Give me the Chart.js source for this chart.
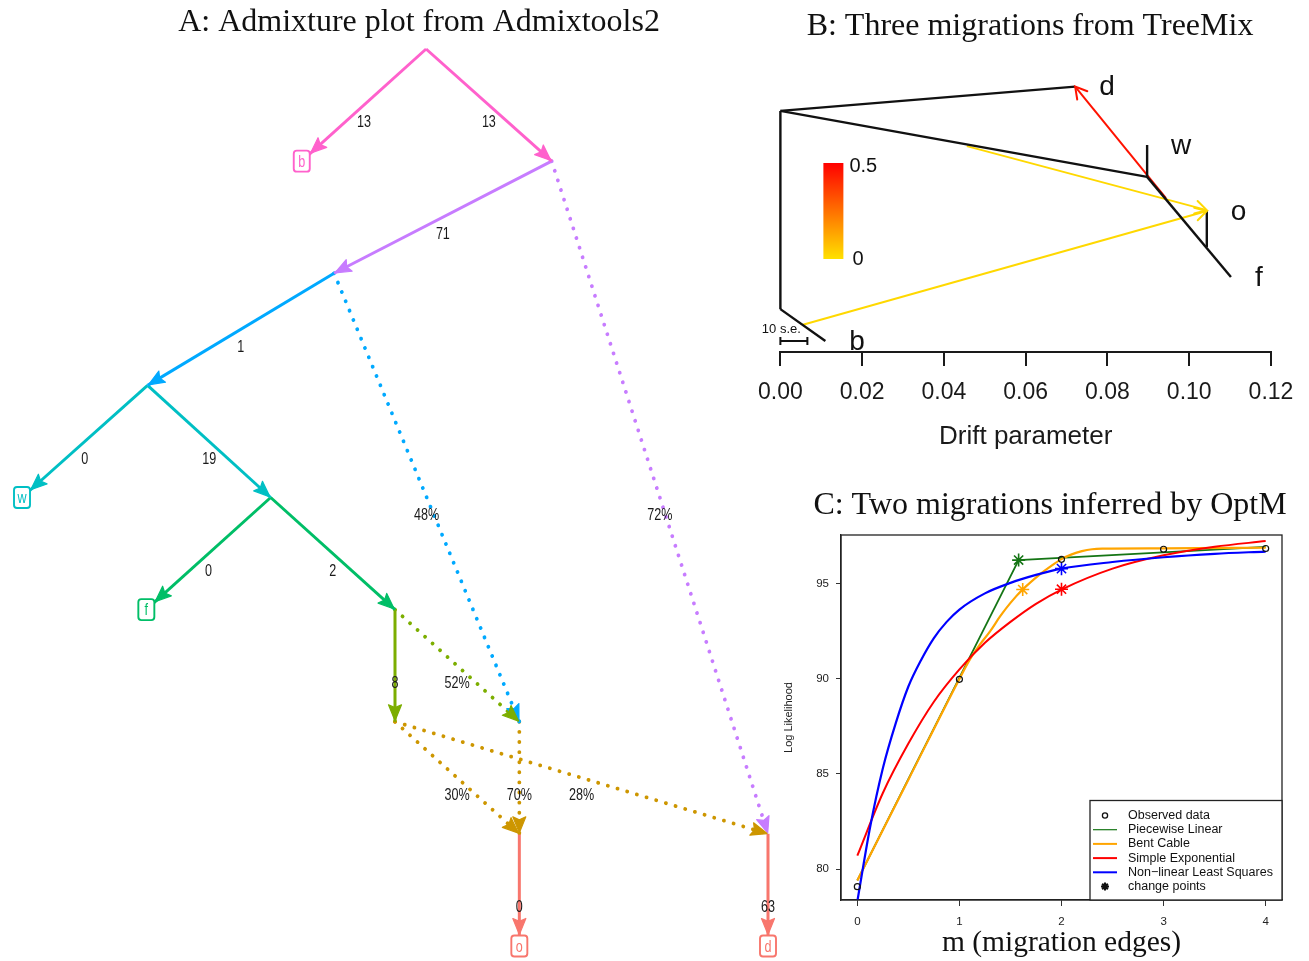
<!DOCTYPE html>
<html>
<head>
<meta charset="utf-8">
<title>Admixture graph, TreeMix and OptM</title>
<script src="https://cdn.jsdelivr.net/npm/chart.js@4.4.1/dist/chart.umd.min.js"></script>
<style>
  html, body { margin:0; padding:0; background:#fff; overflow:hidden; }
  body { width:1309px; height:961px; position:relative; }
  canvas { position:absolute; display:block; }
  #admix { left:0; top:0; }
  #treemix { left:745px; top:0; }
  #optm { left:760px; top:470px; }
</style>
</head>
<body>
<canvas id="admix" width="838" height="961"></canvas>
<canvas id="treemix" width="570" height="470"></canvas>
<canvas id="optm" width="580" height="491"></canvas>
<script>
// ---------------- Panel A: admixture graph (Admixtools2) ----------------
// node layout: horizontal position and depth level
const nodeNames = ['R', 'b', 'N1', 'N2', 'N3', 'w', 'N4', 'f', 'N5', 'N6', 'N7', 'N8', 'N9', 'o', 'd'];
const nodeX     = [3.25, 2.25, 4.26, 2.51, 1.01, 0, 2.0, 1.0, 3.0, 3.0, 4.0, 4.0, 6.0, 4.0, 6.0];
const nodeDepth = [0, 1, 1, 2, 3, 4, 4, 5, 5, 6, 6, 7, 7, 8, 8];
const leafNodes = ['b', 'w', 'f', 'o', 'd'];
// edges: drift (x1000) on tree edges, admixture weights on admixture edges
const edgeFrom  = ['R', 'R', 'N1', 'N1', 'N2', 'N2', 'N3', 'N3', 'N4', 'N4', 'N5', 'N5', 'N6', 'N6', 'N7', 'N8', 'N9'];
const edgeTo    = ['b', 'N1', 'N2', 'N9', 'N3', 'N7', 'w', 'N4', 'f', 'N5', 'N6', 'N7', 'N8', 'N9', 'N8', 'o', 'd'];
const edgeLabel = ['13', '13', '71', '72%', '1', '48%', '0', '19', '0', '2', '8', '52%', '30%', '28%', '70%', '0', '63'];
const edgeAdmix = [false, false, false, true, false, true, false, false, false, false, false, true, true, true, true, false, false];

// ---------------- Panel B: TreeMix tree with three migrations ----------------
const tmNodeName = ['root', 'base', 'bTip', 'dTip', 'wNode', 'wTip', 'fTip', 'oNode', 'oTip'];
const tmDrift    = [0, 0, 0.0110, 0.0721, 0.0897, 0.0897, 0.1102, 0.1043, 0.1043];
const tmHeight   = [0.855, 0.152, 0.039, 0.941, 0.621, 0.734, 0.266, 0.372, 0.500];
const tmEdgeFrom = ['root', 'base', 'root', 'root', 'wNode', 'wNode', 'oNode'];
const tmEdgeTo   = ['base', 'bTip', 'dTip', 'wNode', 'wTip', 'fTip', 'oTip'];
const tmTipLabel = ['b', 'd', 'w', 'f', 'o'];
const tmTipNode  = ['bTip', 'dTip', 'wTip', 'fTip', 'oTip'];
const migFromDrift  = [0.0943, 0.0456, 0.0053];
const migFromHeight = [0.546, 0.730, 0.096];
const migToDrift    = [0.0721, 0.1043, 0.1043];
const migToHeight   = [0.941, 0.503, 0.500];
const migWeight     = [0.46, 0.02, 0.02];
const weightScale   = [0, 0.5];
const driftTicks    = [0, 0.02, 0.04, 0.06, 0.08, 0.10, 0.12];

// ---------------- Panel C: OptM fits ----------------
const migEdges    = [0, 1, 2, 3, 4];
const observedLL  = [79.07, 89.98, 96.29, 96.82, 96.86];
const linearM     = [0, 1.58, 4];
const linearLL    = [79.4, 96.25, 96.95];
const cableM      = [0, 0.5, 1.0, 1.1, 1.2, 1.3, 1.4, 1.5, 1.62, 1.8, 1.9, 2.0, 2.1, 2.2, 2.3, 2.4, 3.0, 4.0];
const cableLL     = [79.4, 84.7, 90.0, 91.0, 91.8, 92.5, 93.3, 94.0, 94.7, 95.55, 95.95, 96.3, 96.55, 96.72, 96.82, 96.85, 96.87, 96.9];
const expM        = [0, 0.25, 0.5, 0.75, 1.0, 1.25, 1.5, 1.75, 2.0, 2.5, 3.0, 3.5, 4.0];
const expLL       = [80.7, 84.0, 86.6, 88.8, 90.5, 91.9, 93.0, 93.95, 94.7, 95.8, 96.5, 96.95, 97.25];
const nlsM        = [0, 0.125, 0.25, 0.375, 0.5, 0.625, 0.75, 0.875, 1.0, 1.25, 1.5, 1.75, 2.0, 2.5, 3.0, 3.5, 4.0];
const nlsLL       = [78.3, 82.2, 85.3, 87.65, 89.6, 91.0, 92.15, 93.0, 93.65, 94.5, 95.05, 95.47, 95.8, 96.15, 96.4, 96.58, 96.7];
const changeM     = [1.58, 1.62, 2.0, 2.0];
const changeLL    = [96.25, 94.7, 94.72, 95.8];
const mTicks      = [0, 1, 2, 3, 4];
const llTicks     = [80, 85, 90, 95];
const legendLabels = ['Observed data', 'Piecewise Linear', 'Bent Cable', 'Simple Exponential', 'Non\u2212linear Least Squares', 'change points'];

const SANS = '"Liberation Sans", Arial, Helvetica, sans-serif';
const SERIF = '"Liberation Serif", "Times New Roman", serif';
Chart.defaults.font.family = SANS;
Chart.defaults.animation = false;

// ======================= Panel A =======================
const sourceColour = { R:'#FF61CC', N1:'#C77CFF', N2:'#00A9FF', N3:'#00BFC4', N4:'#00BE67',
                       N5:'#7CAE00', N6:'#CD9600', N7:'#CD9600', N8:'#F8766D', N9:'#F8766D' };
const nodeIndex = name => nodeNames.indexOf(name);
const nodePoint = name => ({ x: nodeX[nodeIndex(name)], y: nodeDepth[nodeIndex(name)] });
const isLeaf = name => leafNodes.includes(name);

const admixDatasets = edgeFrom.map((from, i) => ({
  label: edgeLabel[i],
  data: [nodePoint(from), nodePoint(edgeTo[i])],
  showLine: true,
  borderColor: sourceColour[from],
  backgroundColor: sourceColour[from],
  borderWidth: edgeAdmix[i] ? 3.8 : 3,
  borderDash: edgeAdmix[i] ? [0.1, 10] : [],
  borderCapStyle: edgeAdmix[i] ? 'round' : 'butt',
  pointRadius: 0,
  pointHoverRadius: 0,
  clip: false
}));

function narrowText(ctx, text, x, y, size, colour, squeeze) {
  ctx.save();
  ctx.translate(x, y);
  ctx.scale(squeeze, 1);
  ctx.font = size + 'px ' + SANS;
  ctx.fillStyle = colour;
  ctx.textAlign = 'center';
  ctx.textBaseline = 'middle';
  ctx.fillText(text, 0, 0);
  ctx.restore();
}

const LEAF_W = 16, LEAF_H = 21;

const graphDecor = {
  id: 'graphDecor',
  afterDatasetsDraw(chart) {
    const { ctx, scales: { x, y } } = chart;
    chart.data.datasets.forEach((ds, i) => {
      const meta = chart.getDatasetMeta(i);
      const a = meta.data[0], b = meta.data[1];
      const dx = b.x - a.x, dy = b.y - a.y, len = Math.hypot(dx, dy);
      const ux = dx / len, uy = dy / len;
      let back = 1;
      if (isLeaf(edgeTo[i])) {
        const tx = Math.abs(ux) > 1e-6 ? (LEAF_W / 2) / Math.abs(ux) : Infinity;
        const ty = Math.abs(uy) > 1e-6 ? (LEAF_H / 2) / Math.abs(uy) : Infinity;
        back = Math.min(tx, ty) + 1;
      }
      const tipX = b.x - ux * back, tipY = b.y - uy * back;
      const L = 16, W = 6.5;
      ctx.save();
      ctx.fillStyle = ds.borderColor;
      ctx.strokeStyle = ds.borderColor;
      ctx.lineWidth = 1.2;
      ctx.lineJoin = 'round';
      ctx.beginPath();
      ctx.moveTo(tipX, tipY);
      ctx.lineTo(tipX - ux * L - uy * W, tipY - uy * L + ux * W);
      ctx.lineTo(tipX - ux * L * 0.82, tipY - uy * L * 0.82);
      ctx.lineTo(tipX - ux * L + uy * W, tipY - uy * L - ux * W);
      ctx.closePath();
      ctx.fill();
      ctx.stroke();
      ctx.restore();
      // edge label just below the edge midpoint
      narrowText(ctx, ds.label, (a.x + b.x) / 2, (a.y + b.y) / 2 + 17.5, 17, '#1a1a1a', 0.74);
    });
    // leaf labels in rounded boxes
    leafNodes.forEach(name => {
      const k = nodeIndex(name);
      const px = x.getPixelForValue(nodeX[k]), py = y.getPixelForValue(nodeDepth[k]);
      const colour = sourceColour[edgeFrom[edgeTo.indexOf(name)]];
      ctx.save();
      ctx.fillStyle = '#fff';
      ctx.strokeStyle = colour;
      ctx.lineWidth = 1.9;
      ctx.beginPath();
      ctx.roundRect(px - LEAF_W / 2, py - LEAF_H / 2, LEAF_W, LEAF_H, 3);
      ctx.fill();
      ctx.stroke();
      ctx.restore();
      narrowText(ctx, name, px, py + 1, 17, colour, 0.74);
    });
  }
};

new Chart(document.getElementById('admix'), {
  type: 'scatter',
  data: { datasets: admixDatasets },
  options: {
    responsive: false,
    animation: false,
    events: [],
    layout: { padding: 0 },
    plugins: {
      legend: { display: false },
      tooltip: { enabled: false },
      title: {
        display: true,
        text: 'A: Admixture plot from Admixtools2',
        color: '#111',
        font: { family: SERIF, size: 32, weight: 'normal' },
        padding: { top: 3, bottom: 0 }
      }
    },
    scales: {
      x: { type: 'linear', display: false, min: -0.177, max: 6.563 },
      y: { type: 'linear', display: false, reverse: true, min: -0.0678, max: 8.1338 }
    }
  },
  plugins: [graphDecor]
});

// ======================= Panel B =======================
function heat(w) {
  const t = Math.max(0, Math.min(1, w / weightScale[1]));
  return 'rgb(255,' + Math.round(225 * (1 - t)) + ',0)';
}
const tmPoint = name => {
  const k = tmNodeName.indexOf(name);
  return { x: tmDrift[k], y: tmHeight[k] };
};
const treeDatasets = tmEdgeFrom.map((from, i) => ({
  data: [tmPoint(from), tmPoint(tmEdgeTo[i])],
  showLine: true, borderColor: '#111', borderWidth: 2.4,
  pointRadius: 0, pointHoverRadius: 0, clip: false
}));
const migDatasets = migFromDrift.map((d, i) => ({
  data: [{ x: d, y: migFromHeight[i] }, { x: migToDrift[i], y: migToHeight[i] }],
  showLine: true, borderColor: heat(migWeight[i]), borderWidth: 2,
  pointRadius: 0, pointHoverRadius: 0, clip: false
}));

const treemixDecor = {
  id: 'treemixDecor',
  afterDatasetsDraw(chart) {
    const { ctx, chartArea: ca, scales: { x, y } } = chart;
    // open arrowheads at migration targets
    migToDrift.forEach((d, i) => {
      const x1 = x.getPixelForValue(d), y1 = y.getPixelForValue(migToHeight[i]);
      const x0 = x.getPixelForValue(migFromDrift[i]), y0 = y.getPixelForValue(migFromHeight[i]);
      const ang = Math.atan2(y1 - y0, x1 - x0), L = 13, spread = Math.PI / 6;
      ctx.save();
      ctx.strokeStyle = heat(migWeight[i]);
      ctx.lineWidth = 2;
      ctx.lineCap = 'round';
      ctx.beginPath();
      ctx.moveTo(x1 - L * Math.cos(ang - spread), y1 - L * Math.sin(ang - spread));
      ctx.lineTo(x1, y1);
      ctx.lineTo(x1 - L * Math.cos(ang + spread), y1 - L * Math.sin(ang + spread));
      ctx.stroke();
      ctx.restore();
    });
    // tip labels
    ctx.save();
    ctx.font = '28px ' + SANS;
    ctx.fillStyle = '#111';
    ctx.textAlign = 'left';
    ctx.textBaseline = 'middle';
    tmTipLabel.forEach((lab, i) => {
      const p = tmPoint(tmTipNode[i]);
      ctx.fillText(lab, x.getPixelForValue(p.x) + 24, y.getPixelForValue(p.y) + 1);
    });
    ctx.restore();
    // migration weight colour bar
    const bx = ca.left + 43, by = ca.top + 93, bw = 20, bh = 96;
    ctx.save();
    const g = ctx.createLinearGradient(0, by, 0, by + bh);
    g.addColorStop(0, heat(weightScale[1]));
    g.addColorStop(1, heat(weightScale[0]));
    ctx.fillStyle = g;
    ctx.fillRect(bx, by, bw, bh);
    ctx.font = '20px ' + SANS;
    ctx.fillStyle = '#111';
    ctx.textAlign = 'left';
    ctx.textBaseline = 'middle';
    ctx.fillText(String(weightScale[1]), bx + bw + 6, by + 3);
    ctx.fillText(String(weightScale[0]), bx + bw + 9, by + bh);
    // 10 standard-error scale bar
    ctx.font = '13px ' + SANS;
    ctx.textAlign = 'center';
    ctx.fillText('10 s.e.', ca.left + 1, ca.top + 259);
    ctx.strokeStyle = '#111';
    ctx.lineWidth = 2;
    ctx.beginPath();
    const sy = ca.top + 271;
    ctx.moveTo(ca.left, sy); ctx.lineTo(ca.left + 27, sy);
    ctx.moveTo(ca.left, sy - 4); ctx.lineTo(ca.left, sy + 4);
    ctx.moveTo(ca.left + 27, sy - 4); ctx.lineTo(ca.left + 27, sy + 4);
    ctx.stroke();
    ctx.restore();
  }
};

new Chart(document.getElementById('treemix'), {
  type: 'scatter',
  data: { datasets: treeDatasets.concat(migDatasets) },
  options: {
    responsive: false,
    animation: false,
    events: [],
    layout: { padding: { left: 0, right: 0, top: 0, bottom: 18 } },
    plugins: {
      legend: { display: false },
      tooltip: { enabled: false },
      title: {
        display: true,
        text: 'B: Three migrations from TreeMix',
        color: '#111',
        font: { family: SERIF, size: 32, weight: 'normal' },
        padding: { top: 7.5, bottom: 24.1 }
      }
    },
    scales: {
      x: {
        type: 'linear', position: 'bottom', min: 0, max: 0.12,
        afterBuildTicks: s => { s.ticks = driftTicks.map(v => ({ value: v })); },
        afterFit: s => { s.height = 100; },
        ticks: { callback: v => v.toFixed(2), font: { size: 23 }, color: '#1a1a1a', padding: 13, maxRotation: 0, autoSkip: false },
        grid: { drawOnChartArea: false, drawTicks: true, tickLength: 14, color: '#1a1a1a', lineWidth: 2 },
        border: { display: true, color: '#1a1a1a', width: 2 },
        title: { display: true, text: 'Drift parameter', color: '#1a1a1a', font: { size: 26 }, padding: { top: 0, bottom: 0 } }
      },
      y: {
        type: 'linear', position: 'left', min: 0, max: 1,
        afterFit: s => { s.width = 35; },
        ticks: { display: false }, grid: { display: false }, border: { display: false }
      },
      yRight: {
        type: 'linear', position: 'right',
        afterFit: s => { s.width = 44; },
        ticks: { display: false }, grid: { display: false }, border: { display: false }
      }
    }
  },
  plugins: [treemixDecor]
});

// ======================= Panel C =======================
const pairs = (xs, ys) => xs.map((v, i) => ({ x: v, y: ys[i] }));
const changeColours = ['#157515', '#FFA500', '#FF0000', '#0000FF'];

const optmDatasets = [
  { label: legendLabels[0], data: pairs(migEdges, observedLL), showLine: false, pointStyle: 'circle',
    pointRadius: 3, borderColor: '#111', backgroundColor: 'rgba(0,0,0,0)', borderWidth: 1.2, order: 0 },
  { label: legendLabels[1], data: pairs(linearM, linearLL), showLine: true, borderColor: '#157515',
    borderWidth: 1.8, pointRadius: 0, order: 5 },
  { label: legendLabels[2], data: pairs(cableM, cableLL), showLine: true, borderColor: '#FFA500',
    borderWidth: 2.2, pointRadius: 0, cubicInterpolationMode: 'monotone', order: 4 },
  { label: legendLabels[3], data: pairs(expM, expLL), showLine: true, borderColor: '#FF0000',
    borderWidth: 2, pointRadius: 0, cubicInterpolationMode: 'monotone', order: 3 },
  { label: legendLabels[4], data: pairs(nlsM, nlsLL), showLine: true, borderColor: '#0000FF',
    borderWidth: 2.2, pointRadius: 0, cubicInterpolationMode: 'monotone', order: 2 },
  { label: legendLabels[5], data: pairs(changeM, changeLL), showLine: false, pointStyle: 'star',
    pointRadius: 6.5, borderColor: changeColours, pointBorderColor: changeColours, borderWidth: 1.6, order: 1 }
];

const optmFrameLegend = {
  id: 'optmFrameLegend',
  afterDatasetsDraw(chart) {
    const { ctx, chartArea: ca } = chart;
    ctx.save();
    ctx.strokeStyle = '#222';
    ctx.lineWidth = 1.3;
    ctx.strokeRect(ca.left, ca.top, ca.right - ca.left, ca.bottom - ca.top);
    // legend box in the lower right corner
    const w = 192, h = 99.5, left = ca.right - w, top = ca.bottom - h;
    ctx.fillStyle = '#fff';
    ctx.fillRect(left, top, w, h);
    ctx.strokeRect(left, top, w, h);
    ctx.font = '12.5px ' + SANS;
    ctx.textAlign = 'left';
    ctx.textBaseline = 'middle';
    chart.data.datasets.forEach((ds, i) => {
      const yy = top + 15 + i * 14.2;
      if (ds.showLine) {
        ctx.strokeStyle = ds.borderColor;
        ctx.lineWidth = i === 1 ? 1.2 : 2;
        ctx.beginPath();
        ctx.moveTo(left + 3, yy);
        ctx.lineTo(left + 27, yy);
        ctx.stroke();
      } else {
        ctx.strokeStyle = '#111';
        ctx.fillStyle = 'rgba(0,0,0,0)';
        Chart.helpers.drawPoint(ctx, { pointStyle: ds.pointStyle, radius: ds.pointStyle === 'star' ? 4 : 2.6, borderWidth: 1.5, rotation: 0 }, left + 15, yy);
      }
      ctx.fillStyle = '#111';
      ctx.fillText(ds.label, left + 38, yy);
    });
    ctx.restore();
  }
};

new Chart(document.getElementById('optm'), {
  type: 'scatter',
  data: { datasets: optmDatasets },
  options: {
    responsive: false,
    animation: false,
    events: [],
    layout: { padding: 0 },
    plugins: {
      legend: { display: false },
      tooltip: { enabled: false },
      title: {
        display: true,
        text: 'C: Two migrations inferred by OptM',
        color: '#111',
        font: { family: SERIF, size: 32, weight: 'normal' },
        padding: { top: 16.3, bottom: 10.3 }
      }
    },
    scales: {
      x: {
        type: 'linear', position: 'bottom', min: -0.16, max: 4.16,
        afterBuildTicks: s => { s.ticks = mTicks.map(v => ({ value: v })); },
        afterFit: s => { s.height = 61; },
        ticks: { font: { size: 11.5 }, color: '#222', padding: 9, maxRotation: 0, autoSkip: false },
        grid: { drawOnChartArea: false, drawTicks: true, tickLength: 6, color: '#333', lineWidth: 1 },
        border: { display: true, color: '#222', width: 1.3 },
        title: { display: true, text: 'm (migration edges)', color: '#111', font: { family: SERIF, size: 29.5 }, padding: { top: 0, bottom: 0 } }
      },
      y: {
        type: 'linear', position: 'left', min: 78.37, max: 97.57,
        afterBuildTicks: s => { s.ticks = llTicks.map(v => ({ value: v })); },
        afterFit: s => { s.width = 81; },
        ticks: { font: { size: 11.5 }, color: '#222', padding: 7, autoSkip: false },
        grid: { drawOnChartArea: false, drawTicks: true, tickLength: 5, color: '#333', lineWidth: 1 },
        border: { display: true, color: '#222', width: 1.3 },
        title: { display: true, text: 'Log Likelihood', color: '#222', font: { size: 11 }, padding: { top: 22.4, bottom: 0 } }
      },
      yRight: {
        type: 'linear', position: 'right',
        afterFit: s => { s.width = 58; },
        ticks: { display: false }, grid: { display: false }, border: { display: false }
      }
    }
  },
  plugins: [optmFrameLegend]
});
</script>
</body>
</html>
